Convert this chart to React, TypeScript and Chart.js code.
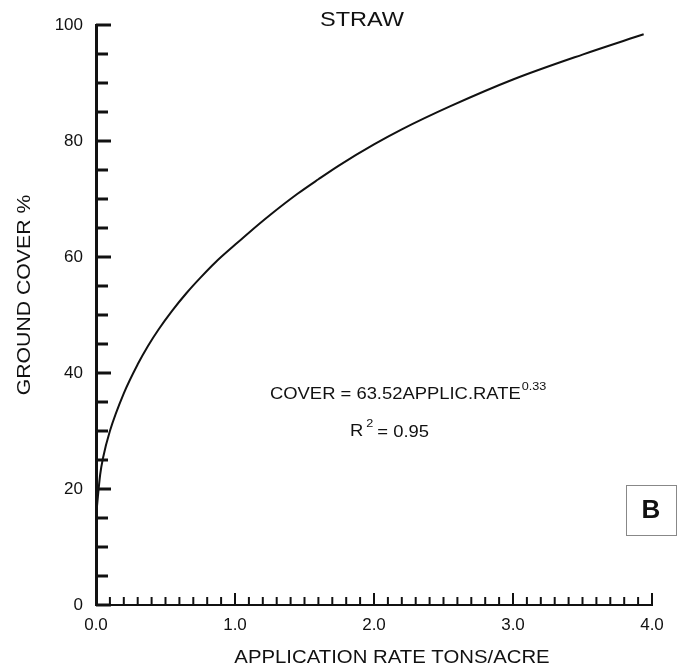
import React, { useEffect, useRef } from "react";
import { Chart, registerables } from "chart.js";

Chart.register(...registerables);

// Data
const applicationRate = [0.005, 0.03, 0.05, 0.1, 0.2, 0.3, 0.375, 0.45, 0.55, 0.65, 0.75, 0.86, 1.0, 1.1, 1.25, 1.45, 1.6, 1.75, 2.0, 2.2, 2.55, 3.0, 3.5, 3.94];
const groundCover = [16.5, 22.5, 25.3, 30, 36.5, 41.5, 44.7, 47.5, 50.8, 53.75, 56.4, 59.1, 62.1, 64.2, 67.2, 70.9, 73.4, 75.8, 79.4, 82, 86, 90.6, 94.9, 98.4];

const xMin = 0;
const xMax = 4;
const xStep = 0.1;
const yMin = 0;
const yMax = 100;
const yStep = 5;
const yLabelEvery = 20;

const chartTitle = "STRAW";
const xTitle = "APPLICATION RATE TONS/ACRE";
const yTitle = "GROUND COVER %";
const equationMain = "COVER = 63.52APPLIC.RATE";
const equationExp = "0.33";
const rSquaredLabel = "R";
const rSquaredSup = "2";
const rSquaredValue = "= 0.95";
const panelLetter = "B";

const FONT = "'Liberation Sans', Arial, Helvetica, sans-serif";
const INK = "#111";

function stretchText(
  ctx: CanvasRenderingContext2D,
  text: string,
  x: number,
  y: number,
  font: string,
  sx: number,
  align: CanvasTextAlign,
  rotate = 0
) {
  ctx.save();
  ctx.font = font;
  ctx.fillStyle = INK;
  ctx.textBaseline = "middle";
  ctx.textAlign = align;
  ctx.translate(x, y);
  if (rotate) ctx.rotate(rotate);
  ctx.scale(sx, 1);
  ctx.fillText(text, 0, 0);
  const w = ctx.measureText(text).width * sx;
  ctx.restore();
  return w;
}

const decorPlugin = {
  id: "decor",
  afterDraw(chart: any) {
    const ctx: CanvasRenderingContext2D = chart.ctx;
    const xs = chart.scales.x;
    const ys = chart.scales.y;
    const area = chart.chartArea;

    // inward tick marks on y axis
    ctx.save();
    ctx.strokeStyle = INK;
    ys.ticks.forEach((t: any) => {
      const py = ys.getPixelForValue(t.value);
      const major = Math.abs(t.value % yLabelEvery) < 1e-6;
      ctx.lineWidth = 3;
      ctx.beginPath();
      ctx.moveTo(area.left, py);
      ctx.lineTo(area.left + (major ? 15 : 12), py);
      ctx.stroke();
    });
    // inward tick marks on x axis
    xs.ticks.forEach((t: any) => {
      const px = xs.getPixelForValue(t.value);
      if (t.value < 1e-6) return;
      const major = Math.abs(t.value - Math.round(t.value)) < 1e-6;
      ctx.lineWidth = 2;
      ctx.beginPath();
      ctx.moveTo(px, area.bottom);
      ctx.lineTo(px, area.bottom - (major ? 12 : 8));
      ctx.stroke();
    });
    ctx.restore();

    // titles
    stretchText(ctx, chartTitle, 362, 20, `21px ${FONT}`, 1.12, "center");
    stretchText(ctx, xTitle, 392, 658, `18px ${FONT}`, 1.13, "center");
    stretchText(ctx, yTitle, 25, 295, `18px ${FONT}`, 1.18, "center", -Math.PI / 2);

    // equation annotation
    const w = stretchText(ctx, equationMain, 270, 395, `16px ${FONT}`, 1.15, "left");
    stretchText(ctx, equationExp, 270 + w + 1, 387, `11px ${FONT}`, 1.15, "left");
    const wr = stretchText(ctx, rSquaredLabel, 350, 432, `16px ${FONT}`, 1.15, "left");
    const ws = stretchText(ctx, rSquaredSup, 350 + wr + 3, 424, `11px ${FONT}`, 1.15, "left");
    stretchText(ctx, rSquaredValue, 350 + wr + ws + 7, 433, `16px ${FONT}`, 1.15, "left");

    // panel letter box
    ctx.save();
    ctx.strokeStyle = "#888";
    ctx.lineWidth = 1;
    ctx.strokeRect(626.5, 485.5, 50, 50);
    ctx.restore();
    stretchText(ctx, panelLetter, 651, 511, `bold 26px ${FONT}`, 1.0, "center");
  },
};

export default function App() {
  const canvasRef = useRef<HTMLCanvasElement | null>(null);

  useEffect(() => {
    if (!canvasRef.current) return;
    const points = applicationRate.map((x, i) => ({ x, y: groundCover[i] }));
    const chart = new Chart(canvasRef.current, {
      type: "line",
      data: {
        datasets: [
          {
            data: points,
            borderColor: INK,
            borderWidth: 2,
            pointRadius: 0,
            cubicInterpolationMode: "monotone",
            fill: false,
          },
        ],
      },
      options: {
        animation: false,
        responsive: false,
        maintainAspectRatio: false,
        layout: { padding: { left: 0, right: 32, top: 25, bottom: 0 } },
        plugins: {
          legend: { display: false },
          title: { display: false },
          tooltip: { enabled: false },
        },
        scales: {
          x: {
            type: "linear",
            min: xMin,
            max: xMax,
            afterFit: (s: any) => {
              s.height = 65;
            },
            border: { display: true, color: INK, width: 2 },
            grid: { display: false, drawTicks: false },
            ticks: {
              stepSize: xStep,
              autoSkip: false,
              maxRotation: 0,
              minRotation: 0,
              maxTicksLimit: 200,
              padding: 10,
              color: INK,
              font: { family: FONT, size: 17 },
              callback: (v: any) => {
                const n = Number(v);
                return Math.abs(n - Math.round(n)) < 1e-6 ? n.toFixed(1) : "";
              },
            },
          },
          y: {
            type: "linear",
            min: yMin,
            max: yMax,
            afterFit: (s: any) => {
              s.width = 96;
            },
            border: { display: true, color: INK, width: 3 },
            grid: { display: false, drawTicks: false },
            ticks: {
              stepSize: yStep,
              autoSkip: false,
              maxTicksLimit: 200,
              padding: 13,
              color: INK,
              font: { family: FONT, size: 17 },
              callback: (v: any) => {
                const n = Number(v);
                return Math.abs(n % yLabelEvery) < 1e-6 ? String(Math.round(n)) : "";
              },
            },
          },
        },
      },
      plugins: [decorPlugin],
    });
    return () => chart.destroy();
  }, []);

  return (
    <div style={{ position: "fixed", left: 0, top: 0, width: 684, height: 670, background: "#fff" }}>
      <canvas ref={canvasRef} width={684} height={670} style={{ width: 684, height: 670, display: "block" }} />
    </div>
  );
}
